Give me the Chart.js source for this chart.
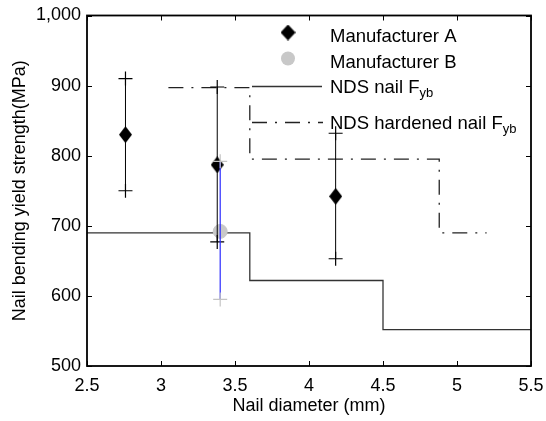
<!DOCTYPE html>
<html>
<head>
<meta charset="utf-8">
<script src="https://cdn.jsdelivr.net/npm/chart.js@4/dist/chart.umd.min.js"></script>
<style>
html, body { margin: 0; padding: 0; background: #fff; }
</style>
</head>
<body>
<canvas id="chart" width="546" height="421"></canvas>
<script>
// Manufacturer A: nail diameter, mean, and range (low / high)
let diaA = [2.76, 3.38, 4.18];
let meanA = [830, 787, 742];
let lowA = [750, 677, 653];
let highA = [910, 898, 832];

// Manufacturer B
let diaB = [3.40];
let meanB = [692];
let lowB = [595];
let highB = [792];

// NDS step lines (break points on x, one level per step)
let ndsBreaks = [2.5, 3.6, 4.5, 5.5];
let ndsLevels = [690, 622, 552];
let hardBreaks = [3.05, 3.6, 4.88, 5.2];
let hardLevels = [897, 795, 690];

let xTicks = [2.5, 3, 3.5, 4, 4.5, 5, 5.5];
let yTicks = [500, 600, 700, 800, 900, 1000];

let legendNames = ['Manufacturer A', 'Manufacturer B', 'NDS nail F', 'NDS hardened nail F'];
let legendSubs = ['', '', 'yb', 'yb'];

const FONT = "'Liberation Sans', Arial, Helvetica, sans-serif";

// diamond marker
function diamond(w, h) {
    let c = document.createElement('canvas');
    c.width = w; c.height = h;
    let g = c.getContext('2d');
    g.fillStyle = '#000';
    g.beginPath();
    g.moveTo(w / 2, 0); g.lineTo(w, h / 2); g.lineTo(w / 2, h); g.lineTo(0, h / 2);
    g.closePath();
    g.fill();
    return c;
}
let diamondImg = diamond(13, 17);
let legendDiamond = diamond(15, 16);

function steps(breaks, levels) {
    let pts = [];
    for (let i = 0; i < levels.length; i++) {
        pts.push({x: breaks[i], y: levels[i]});
        pts.push({x: breaks[i + 1], y: levels[i]});
    }
    return pts;
}

let datasets = [];
let ord = 20;

datasets.push({
    label: 'NDS nail Fyb', data: steps(ndsBreaks, ndsLevels), showLine: true,
    borderColor: '#333', borderWidth: 1.3, pointRadius: 0, order: ord--
});
datasets.push({
    label: 'NDS hardened nail Fyb', data: steps(hardBreaks, hardLevels), showLine: true,
    borderColor: '#222', borderWidth: 1.3, borderDash: [15, 8, 2, 8], pointRadius: 0, order: ord--
});
datasets.push({
    label: 'Manufacturer A', data: diaA.map((d, i) => ({x: d, y: meanA[i]})),
    pointStyle: diamondImg, showLine: false, order: ord--
});
datasets.push({
    label: 'Manufacturer B', data: diaB.map((d, i) => ({x: d, y: meanB[i]})),
    pointStyle: 'circle', pointRadius: 7, backgroundColor: '#c8c8c8', borderColor: '#c8c8c8',
    showLine: false, order: ord--
});
// error bars, one little line per point, '+' caps at the ends
diaA.forEach((d, i) => {
    datasets.push({
        data: [{x: d, y: lowA[i]}, {x: d, y: highA[i]}], showLine: true,
        borderColor: '#000', borderWidth: 1, pointStyle: 'cross', pointRadius: 7,
        pointBorderColor: '#000', pointBorderWidth: 1.2, order: ord--
    });
});
diaB.forEach((d, i) => {
    datasets.push({
        data: [{x: d, y: lowB[i]}, {x: d, y: highB[i]}], showLine: true,
        borderColor: '#2a2aff', borderWidth: 1.2, pointStyle: 'cross', pointRadius: 7,
        pointBorderColor: '#c4c4c4', pointBorderWidth: 1.2, order: ord--
    });
});

// box round the plot with inward ticks on all four sides
const frame = {
    id: 'frame',
    afterDraw(chart) {
        let ctx = chart.ctx, a = chart.chartArea;
        let xs = chart.scales.x, ys = chart.scales.y;
        ctx.save();
        ctx.strokeStyle = '#000';
        ctx.lineWidth = 1;
        ctx.beginPath();
        xTicks.forEach(v => {
            let px = Math.round(xs.getPixelForValue(v)) + 0.5;
            ctx.moveTo(px, a.bottom); ctx.lineTo(px, a.bottom - 5);
            ctx.moveTo(px, a.top); ctx.lineTo(px, a.top + 5);
        });
        yTicks.forEach(v => {
            let py = Math.round(ys.getPixelForValue(v)) + 0.5;
            ctx.moveTo(a.left, py); ctx.lineTo(a.left + 5, py);
            ctx.moveTo(a.right, py); ctx.lineTo(a.right - 5, py);
        });
        ctx.stroke();
        ctx.lineWidth = 1.8;
        ctx.strokeRect(a.left, a.top, a.right - a.left, a.bottom - a.top);
        ctx.restore();
    }
};

const legendBox = {
    id: 'legendBox',
    afterDraw(chart) {
        let ctx = chart.ctx, a = chart.chartArea;
        let lx = a.left + 243;   // text start
        let textY = [36.5, 62.5, 87.5, 123.5];
        let symY = [32.5, 58.5, 86.5, 122.5];
        ctx.save();
        ctx.textBaseline = 'middle';
        legendNames.forEach((name, i) => {
            let y = textY[i];
            ctx.font = '18.5px ' + FONT;
            ctx.fillStyle = '#000';
            ctx.fillText(name, lx, y);
            if (legendSubs[i]) {
                let w = ctx.measureText(name).width;
                ctx.font = '13px ' + FONT;
                ctx.fillText(legendSubs[i], lx + w, y + 6);
            }
        });
        // symbols
        ctx.drawImage(legendDiamond, a.left + 201 - 7.5, symY[0] - 8);
        ctx.fillStyle = '#c8c8c8';
        ctx.beginPath();
        ctx.arc(a.left + 201, symY[1], 7, 0, Math.PI * 2);
        ctx.fill();
        ctx.strokeStyle = '#333';
        ctx.lineWidth = 1.3;
        ctx.beginPath();
        ctx.moveTo(a.left + 165, symY[2]); ctx.lineTo(a.left + 235, symY[2]);
        ctx.stroke();
        ctx.strokeStyle = '#222';
        ctx.setLineDash([15, 8, 2, 8]);
        ctx.beginPath();
        ctx.moveTo(a.left + 165, symY[3]); ctx.lineTo(a.left + 236, symY[3]);
        ctx.stroke();
        ctx.restore();
    }
};

let chart = new Chart(document.getElementById('chart').getContext('2d'), {
    type: 'scatter',
    data: {datasets: datasets},
    options: {
        responsive: false,
        animation: false,
        devicePixelRatio: 1,
        locale: 'en-US',
        layout: {padding: {top: 15.5, right: 15, left: 0, bottom: 0}},
        plugins: {legend: {display: false}, tooltip: {enabled: false}},
        scales: {
            x: {
                type: 'linear', position: 'bottom', min: 2.5, max: 5.5,
                grid: {display: false, drawTicks: false}, border: {display: false},
                afterBuildTicks: s => { s.ticks = xTicks.map(v => ({value: v})); },
                afterFit: s => { s.height = 55; s.paddingLeft = 0; s.paddingRight = 0; },
                ticks: {color: '#000', font: {family: FONT, size: 18}, padding: 9, maxRotation: 0,
                        autoSkip: false, callback: v => String(v)},
                title: {display: true, text: 'Nail diameter (mm)', color: '#000',
                        font: {family: FONT, size: 18}, padding: {top: 0, bottom: 4}}
            },
            y: {
                type: 'linear', min: 500, max: 1000,
                grid: {display: false, drawTicks: false}, border: {display: false},
                afterBuildTicks: s => { s.ticks = yTicks.map(v => ({value: v})); },
                afterFit: s => { s.width = 87; s.paddingTop = 0; s.paddingBottom = 0; },
                ticks: {color: '#000', font: {family: FONT, size: 18}, padding: 6,
                        callback: v => v.toLocaleString('en-US')},
                title: {display: true, text: 'Nail bending yield strength(MPa)', color: '#000',
                        font: {family: FONT, size: 18}, padding: {top: 9, bottom: 0}}
            }
        }
    },
    plugins: [frame, legendBox]
});
</script>
</body>
</html>
